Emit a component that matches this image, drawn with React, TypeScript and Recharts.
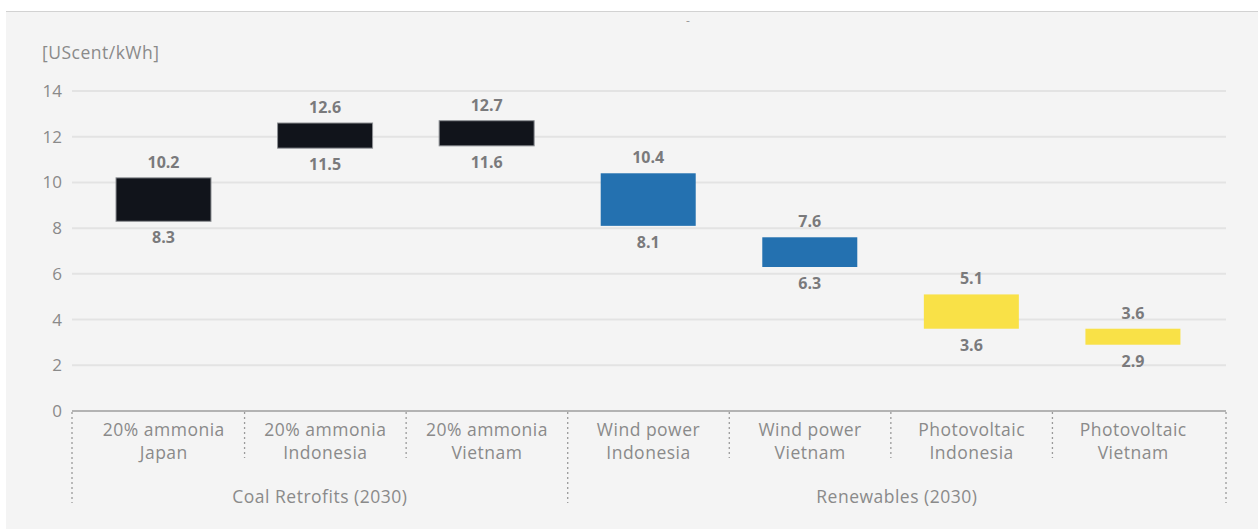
import React from "react";
import { BarChart, Bar, XAxis, YAxis, CartesianGrid, ReferenceLine } from "recharts";

// ---- data ----
const techLabels = ["20% ammonia", "20% ammonia", "20% ammonia", "Wind power", "Wind power", "Photovoltaic", "Photovoltaic"];
const countryLabels = ["Japan", "Indonesia", "Vietnam", "Indonesia", "Vietnam", "Indonesia", "Vietnam"];
const techTypes = ["coal", "coal", "coal", "wind", "wind", "pv", "pv"];
const groupLabels = ["Coal Retrofits (2030)", "Renewables (2030)"];
const groupOf = [0, 0, 0, 1, 1, 1, 1];
const lowValues = [8.3, 11.5, 11.6, 8.1, 6.3, 3.6, 2.9];
const highValues = [10.2, 12.6, 12.7, 10.4, 7.6, 5.1, 3.6];
const yTicks = [0, 2, 4, 6, 8, 10, 12, 14];
const unitLabel = "[UScent/kWh]";
const titleText = "-";

const data = techLabels.map((tech, i) => ({
  name: `${tech} ${countryLabels[i]}`,
  tech,
  country: countryLabels[i],
  type: techTypes[i],
  group: groupOf[i],
  low: lowValues[i],
  high: highValues[i],
}));

// ---- style / layout ----
const COLORS: Record<string, string> = { coal: "#11141b", wind: "#2471b0", pv: "#f9e147" };
const FONT = "'Open Sans', sans-serif";
const TEXT_GRAY = "#8a8a8a";
const LABEL_GRAY = "#7a7a7c";
const W = 1258;
const H = 529;
const PLOT_L = 72;
const PLOT_R = 1226;
const PLOT_T = 91;
const PLOT_B = 411;
const PAD_L = 11;
const PAD_R = 12;
const N = data.length;
const BAND = (PLOT_R - PLOT_L - PAD_L - PAD_R) / N;
const CAT_FS = 17.5;
const CAT_LS = 0.5;

const BarShape = (props: any) => {
  const { x, y, width, height, payload } = props;
  const top = Math.min(y, y + height);
  const h = Math.abs(height);
  const cx = x + width / 2;
  const isCoal = payload.type === "coal";
  return (
    <g>
      <rect
        x={x}
        y={top}
        width={width}
        height={h}
        fill={COLORS[payload.type]}
        stroke={isCoal ? "#8d9094" : "none"}
        strokeWidth={isCoal ? 1 : 0}
      />
      <text x={cx} y={top - 16} textAnchor="middle" dominantBaseline="central" fontFamily={FONT} fontWeight={700} fontSize={16} fill={LABEL_GRAY}>
        {payload.high.toFixed(1)}
      </text>
      <text x={cx} y={top + h + 16} textAnchor="middle" dominantBaseline="central" fontFamily={FONT} fontWeight={700} fontSize={16} fill={LABEL_GRAY}>
        {payload.low.toFixed(1)}
      </text>
    </g>
  );
};

const CategoryTick = (props: any) => {
  const { x, payload } = props;
  const i: number = props.index ?? payload?.index ?? 0;
  const d = data[i];
  if (!d) return null;
  const left = x - BAND / 2;
  const isGroupStart = i === 0 || data[i - 1].group !== d.group;
  const sepX = i === 0 ? PLOT_L : left;
  const sepBottom = isGroupStart ? PLOT_B + 92 : PLOT_B + 47;
  const textProps = {
    textAnchor: "middle" as const,
    dominantBaseline: "central" as const,
    fontFamily: FONT,
    fontSize: CAT_FS,
    letterSpacing: CAT_LS,
    fill: TEXT_GRAY,
  };
  const els: React.ReactNode[] = [];
  els.push(
    <line key="sep" x1={sepX} x2={sepX} y1={PLOT_B + 1} y2={sepBottom} stroke="#9a9a9a" strokeWidth={1.3} strokeDasharray="2 3" />
  );
  if (i === N - 1) {
    els.push(
      <line key="sepR" x1={PLOT_R} x2={PLOT_R} y1={PLOT_B + 1} y2={PLOT_B + 92} stroke="#9a9a9a" strokeWidth={1.3} strokeDasharray="2 3" />
    );
  }
  els.push(
    <text key="t1" x={x} y={PLOT_B + 18} {...textProps}>
      {d.tech}
    </text>
  );
  els.push(
    <text key="t2" x={x} y={PLOT_B + 41} {...textProps}>
      {d.country}
    </text>
  );
  if (isGroupStart) {
    let last = i;
    while (last + 1 < N && data[last + 1].group === d.group) last++;
    const gLeft = i === 0 ? PLOT_L : left;
    const gRight = last === N - 1 ? PLOT_R : x + (last - i) * BAND + BAND / 2;
    els.push(
      <text key="g" x={(gLeft + gRight) / 2} y={PLOT_B + 85} {...textProps}>
        {groupLabels[d.group]}
      </text>
    );
  }
  return <g>{els}</g>;
};

export default function App() {
  return (
    <div style={{ position: "absolute", left: 0, top: 0, width: W, height: H, background: "#ffffff", overflow: "hidden" }}>
      <div style={{ position: "absolute", left: 6, top: 11, right: 0, bottom: 0, background: "#f4f4f4", borderTop: "1.5px solid #d2d2d2" }} />
      <div style={{ position: "absolute", left: 0, top: 0 }}>
        <BarChart
          width={W}
          height={H}
          data={data}
          margin={{ top: PLOT_T, right: W - PLOT_R, left: 12, bottom: 18 }}
          barSize={95}
        >
          <CartesianGrid vertical={false} stroke="#e3e3e3" strokeWidth={2} />
          <XAxis
            dataKey="name"
            interval={0}
            height={H - PLOT_B - 18}
            padding={{ left: PAD_L, right: PAD_R }}
            axisLine={false}
            tickLine={false}
            tick={<CategoryTick />}
          />
          <YAxis
            width={PLOT_L - 12}
            domain={[0, 14]}
            ticks={yTicks}
            interval={0}
            axisLine={false}
            tickLine={false}
            tickMargin={4}
            tick={{ fontFamily: FONT, fontSize: 17, fill: TEXT_GRAY }}
          />
          <ReferenceLine y={0} stroke="#b3b3b3" strokeWidth={2} />
          <Bar dataKey={(d: any) => [d.low, d.high]} shape={<BarShape />} isAnimationActive={false} />
          <text x={42} y={52} dominantBaseline="central" fontFamily={FONT} fontSize={17.5} letterSpacing={0.5} fill={TEXT_GRAY}>
            {unitLabel}
          </text>
          <text x={688} y={20} textAnchor="middle" dominantBaseline="central" fontFamily={FONT} fontSize={12} fill="#9a9a9a">
            {titleText}
          </text>
        </BarChart>
      </div>
    </div>
  );
}
